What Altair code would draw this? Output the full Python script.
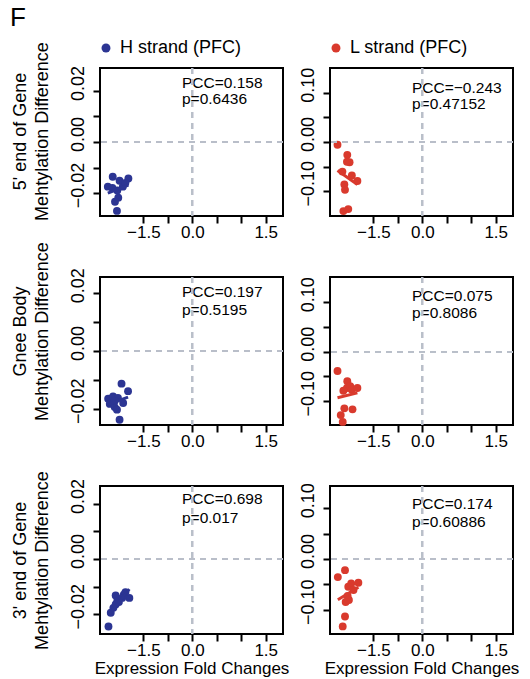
import altair as alt
import pandas as pd

FONT = "Liberation Sans"
BLUE = "#2c3593"
RED = "#d93a2d"
GRID_GRAY = "#b9bfc9"

STRANDS = ["H strand (PFC)", "L strand (PFC)"]
ROW_TITLES = [
    ["5' end of Gene", "Mehtylation Difference"],
    ["Gnee Body", "Mehtylation Difference"],
    ["3' end of Gene", "Mehtylation Difference"],
]
X_TITLE = "Expression Fold Changes"

X_TICKS = [-1.5, -0.75, 0.0, 0.75, 1.5, 2.25]
X_TICK_LABELS = ["\u22121.5", "", "0.0", "", "", "1.5"]
Y_TICKS_H = [-0.02, -0.01, 0.0, 0.01, 0.02]
Y_TICK_LABELS_H = ["\u22120.02", "", "0.00", "", "0.02"]
Y_TICKS_L = [-0.10, -0.05, 0.0, 0.05, 0.10]
Y_TICK_LABELS_L = ["\u22120.10", "", "0.00", "", "0.10"]

PCC = ["0.158", "\u22120.243", "0.197", "0.075", "0.698", "0.174"]
PVAL = ["0.6436", "0.47152", "0.5195", "0.8086", "0.017", "0.60886"]

# 5' end, H strand
h5_x = [-2.44, -2.59, -1.96, -2.23, -2.27, -2.37, -2.31, -2.13, -2.30, -2.45, -2.05]
h5_y = [-0.0136, -0.0175, -0.0143, -0.0152, -0.0218, -0.0234, -0.0270, -0.0175, -0.0190, -0.0180, -0.0160]
# 5' end, L strand
l5_x = [-2.60, -2.30, -2.23, -2.31, -2.45, -2.16, -1.99, -2.39, -2.37, -2.42, -2.27]
l5_y = [-0.0055, -0.026, -0.041, -0.040, -0.060, -0.068, -0.079, -0.086, -0.097, -0.140, -0.136]
# gene body, H strand
hb_x = [-2.17, -1.97, -2.58, -2.43, -2.28, -2.12, -2.53, -2.38, -2.31, -2.23, -2.38]
hb_y = [-0.0113, -0.0139, -0.0165, -0.0157, -0.0162, -0.0180, -0.0183, -0.0194, -0.0203, -0.0238, -0.0173]
# gene body, L strand
lb_x = [-2.60, -2.30, -2.31, -2.21, -2.16, -1.99, -2.42, -2.39, -2.14, -2.50, -2.44]
lb_y = [-0.039, -0.0595, -0.0733, -0.0698, -0.0766, -0.0733, -0.0787, -0.1143, -0.1164, -0.128, -0.1417]
# 3' end, H strand
h3_x = [-2.57, -2.35, -2.30, -2.10, -1.93, -2.42, -2.35, -2.25, -2.15, -2.05, -2.50]
h3_y = [-0.0245, -0.0132, -0.0152, -0.0129, -0.0141, -0.0177, -0.0165, -0.0156, -0.0141, -0.0120, -0.0195]
# 3' end, L strand
l3_x = [-2.59, -2.37, -2.18, -1.96, -2.27, -2.29, -2.25, -2.35, -2.37, -2.44, -2.11]
l3_y = [-0.0357, -0.0221, -0.0482, -0.0469, -0.0547, -0.0729, -0.0807, -0.0846, -0.1133, -0.1328, -0.0611]

X_DOMAIN = [-2.83, 2.78]
Y_DOMAINS = [[-0.029, 0.029], [-0.15, 0.15], [-0.0256, 0.0256], [-0.148, 0.151], [-0.0272, 0.0265], [-0.1477, 0.1436]]

W, H = 183, 148


def label_expr(values, labels):
    expr = "''"
    for v, lab in reversed(list(zip(values, labels))):
        expr = f"abs(datum.value - ({v})) < 1e-9 ? '{lab}' : ({expr})"
    return expr


def panel(i, xs, ys, strand, color, yticks, ylabels, ytitle, xtitle, ty, title_y=None):
    df = pd.DataFrame({"x": xs, "y": ys, "strand": [strand] * len(xs)})
    base = alt.Chart(df)

    xaxis = dict(values=X_TICKS, labelExpr=label_expr(X_TICKS, X_TICK_LABELS), tickCount=40,
                 labelFontSize=17, labelPadding=1, titlePadding=2, titleFontSize=17,
                 minExtent=24, maxExtent=24)
    xaxis["title"] = xtitle if xtitle else None
    yaxis = dict(values=yticks, labelExpr=label_expr(yticks, ylabels), tickCount=40,
                 labelAngle=270, labelAlign="center", labelBaseline="bottom",
                 labelOffset=-8, labelPadding=6, minExtent=30, maxExtent=30,
                 titlePadding=19, titleFontSize=18, titleLineHeight=22)
    yaxis["title"] = ytitle if ytitle else None
    if title_y is not None:
        yaxis["titleY"] = title_y

    xenc = alt.X("x:Q", scale=alt.Scale(domain=X_DOMAIN, nice=False, zero=False), axis=alt.Axis(**xaxis))
    yenc = alt.Y("y:Q", scale=alt.Scale(domain=Y_DOMAINS[i], nice=False, zero=False), axis=alt.Axis(**yaxis))

    one = alt.Data(values=[{"k": 1}])
    t1 = alt.Chart(one).mark_text(align="left", baseline="middle", fontSize=15.5, font=FONT, color="black").encode(
        x=alt.value(82), y=alt.value(ty[0] - 1), text=alt.value("PCC=" + PCC[i]))
    t2 = alt.Chart(one).mark_text(align="left", baseline="middle", fontSize=15.5, font=FONT, color="black").encode(
        x=alt.value(82), y=alt.value(ty[1] + 1), text=alt.value("p=" + PVAL[i]))

    hline = base.mark_rule(color=GRID_GRAY, strokeDash=[6, 5], strokeWidth=1.5).encode(y=alt.datum(0))
    vline = base.mark_rule(color=GRID_GRAY, strokeDash=[6, 5], strokeWidth=1.5).encode(x=alt.datum(0))

    pts = base.mark_circle(size=62, opacity=1).encode(
        x=xenc, y=yenc,
        color=alt.Color("strand:N", scale=alt.Scale(domain=STRANDS, range=[BLUE, RED]),
                        legend=alt.Legend(title=None, orient="none", legendX=-3, legendY=-29,
                                          direction="horizontal", symbolType="circle", symbolSize=80,
                                          labelFontSize=18, labelFont=FONT, labelColor="black",
                                          labelOffset=5, columnPadding=85, symbolStrokeWidth=0)),
    )
    reg = base.transform_regression("x", "y").mark_line(color=color, strokeWidth=3).encode(x="x:Q", y="y:Q")

    return alt.layer(t1, t2, pts, reg, hline, vline).properties(width=W, height=H)


panels = [
    panel(0, h5_x, h5_y, STRANDS[0], BLUE, Y_TICKS_H, Y_TICK_LABELS_H, ROW_TITLES[0], None, (16, 30), 63),
    panel(1, l5_x, l5_y, STRANDS[1], RED, Y_TICKS_L, Y_TICK_LABELS_L, None, None, (21, 35)),
    panel(2, hb_x, hb_y, STRANDS[0], BLUE, Y_TICKS_H, Y_TICK_LABELS_H, ROW_TITLES[1], None, (16, 32), 54),
    panel(3, lb_x, lb_y, STRANDS[1], RED, Y_TICKS_L, Y_TICK_LABELS_L, None, None, (20, 35)),
    panel(4, h3_x, h3_y, STRANDS[0], BLUE, Y_TICKS_H, Y_TICK_LABELS_H, ROW_TITLES[2], X_TITLE, (14, 31)),
    panel(5, l3_x, l3_y, STRANDS[1], RED, Y_TICKS_L, Y_TICK_LABELS_L, None, X_TITLE, (19, 35)),
]

chart = alt.concat(*panels, columns=2, spacing={"row": 61, "column": 47}, bounds="flush").properties(
    title=alt.TitleParams("F", anchor="start", fontSize=26, font=FONT, fontWeight="normal", color="black", offset=8),
    padding={"left": 10, "top": 5, "right": 5, "bottom": 5},
).configure_view(stroke="black", strokeWidth=2).configure_axis(
    grid=False, domain=False, tickColor="black", tickWidth=2, tickSize=7,
    labelColor="black", labelFont=FONT, labelFontSize=18, titleFont=FONT,
    titleFontWeight="normal", titleColor="black", labelOverlap=False, labelFlush=False,
)

chart.save("out.html", embed_options={"renderer": "svg", "actions": False})
